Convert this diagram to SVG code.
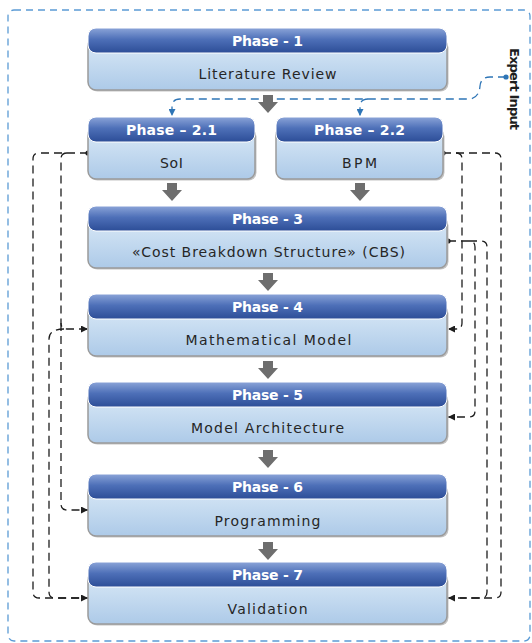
<svg xmlns="http://www.w3.org/2000/svg" width="532" height="643" viewBox="0 0 532 643">
  <style>
    .hdr { fill: url(#hdrGrad); stroke: #ffffff; stroke-width: 1; }
    .body { fill: url(#bodyGrad); stroke: #9a9a9a; stroke-width: 1.5; }
    .shadow { fill: #c4c4c4; }
    .htxt { font-family: "DejaVu Sans", "Liberation Sans", sans-serif; font-weight: bold; font-size: 14px; fill: #ffffff; text-anchor: middle; }
    .btxt { font-family: "DejaVu Sans", "Liberation Sans", sans-serif; font-size: 14px; fill: #262626; text-anchor: middle; }
    .side { font-family: "DejaVu Sans", "Liberation Sans", sans-serif; font-weight: bold; font-size: 13px; fill: #1e1e1e; text-anchor: middle; }
    .flow { fill: #6e6e6e; }
    .fb { fill: none; stroke: #1e1e1e; stroke-width: 1.3; stroke-dasharray: 8 5; }
    .fb-end { marker-end: url(#arrowBlack); }
    .ex { fill: none; stroke: #2e75b6; stroke-width: 1.3; stroke-dasharray: 8 5; marker-end: url(#arrowBlue); }
    .frame { fill: none; stroke: #5b9bd5; stroke-width: 1.3; stroke-dasharray: 7 5; }
  </style>
  <defs>
    <linearGradient id="hdrGrad" x1="0" y1="0" x2="0" y2="1">
      <stop offset="0" stop-color="#8ba4d8"/>
      <stop offset="0.45" stop-color="#4e70b8"/>
      <stop offset="1" stop-color="#2c4d97"/>
    </linearGradient>
    <linearGradient id="bodyGrad" x1="0" y1="0" x2="0" y2="1">
      <stop offset="0" stop-color="#dbeaf7"/>
      <stop offset="1" stop-color="#adcae8"/>
    </linearGradient>
    <marker id="arrowBlack" viewBox="0 0 10 10" refX="10" refY="5" markerWidth="9" markerHeight="7" markerUnits="userSpaceOnUse" orient="auto">
      <path d="M0,0 L10,5 L0,10 z" fill="#1e1e1e"/>
    </marker>
    <marker id="arrowBlue" viewBox="0 0 10 10" refX="10" refY="5" markerWidth="8" markerHeight="7" markerUnits="userSpaceOnUse" orient="auto">
      <path d="M0,0 L10,5 L0,10 z" fill="#2e75b6"/>
    </marker>
    <path id="blockArrow" d="M-5,0 H5 V7 H10 L0,18 L-10,7 H-5 Z"/>
  </defs>

  <!-- outer dashed frame -->
  <rect class="frame" x="8" y="10" width="522" height="631" rx="6"/>

  <!-- expert input label -->
  <text class="side" transform="translate(510,89) rotate(90)" textLength="82" lengthAdjust="spacing">Expert Input</text>

  <!-- connectors -->
  <g id="connectors">
    <!-- expert input feed -->
    <path class="ex" d="M506,77 H490 Q481,77 480,86 Q479,99 468,99 H180 Q172,99 172,107 V116"/>
    <path class="ex" d="M368,99 Q360,99 360,107 V116"/>
    <circle cx="506" cy="77" r="2.6" fill="#2e75b6"/>

    <!-- solid flow arrows between phases -->
    <use href="#blockArrow" class="flow" x="268" y="95"/>
    <use href="#blockArrow" class="flow" x="172" y="183"/>
    <use href="#blockArrow" class="flow" x="360" y="183"/>
    <use href="#blockArrow" class="flow" x="268" y="273"/>
    <use href="#blockArrow" class="flow" x="268" y="361"/>
    <use href="#blockArrow" class="flow" x="268" y="450"/>
    <use href="#blockArrow" class="flow" x="268" y="542"/>

    <!-- left feedback lines from SoI -->
    <path class="fb fb-end" d="M88,153 H39 Q33,153 33,159 V592 Q33,598 39,598 H88"/>
    <path class="fb fb-end" d="M67,153 Q61,153 61,159 V323 Q61,329 67,329 H88"/>
    <path class="fb fb-end" d="M61,323 V504 Q61,510 67,510 H88"/>
    <path class="fb" d="M64,329 Q49,329 49,339 V592 Q49,598 55,598 H80"/>
    <circle cx="88" cy="153" r="2.6" fill="#1e1e1e"/>

    <!-- right feedback lines from BPM -->
    <path class="fb fb-end" d="M443,153 H456 Q462,153 462,159 V323 Q462,329 456,329 H448"/>
    <path class="fb fb-end" d="M456,153 H495 Q501,153 501,159 V592 Q501,598 495,598 H448"/>
    <circle cx="443" cy="153" r="2.6" fill="#1e1e1e"/>

    <!-- right feedback lines from CBS -->
    <path class="fb fb-end" d="M448,241 H469 Q475,241 475,247 V411 Q475,417 469,417 H448"/>
    <path class="fb" d="M469,241 H481 Q487,241 487,247 V592 Q487,598 481,598 H460"/>
    <circle cx="448" cy="241" r="2.6" fill="#1e1e1e"/>
  </g>

  <!-- phase nodes -->
  <g id="phase1">
    <rect class="shadow" x="89.5" y="39.5" width="359" height="52" rx="8"/>
    <rect class="body" x="88" y="38" width="359" height="52" rx="8"/>
    <rect class="hdr" x="88" y="28" width="359" height="25" rx="8"/>
    <text class="htxt" x="267.5" y="46" textLength="71" lengthAdjust="spacing">Phase - 1</text>
    <text class="btxt" x="267.5" y="79" textLength="138" lengthAdjust="spacing">Literature Review</text>
  </g>

  <g id="phase2-1">
    <rect class="shadow" x="89.5" y="128.5" width="167" height="52" rx="8"/>
    <rect class="body" x="88" y="127" width="167" height="52" rx="8"/>
    <rect class="hdr" x="88" y="117" width="167" height="25" rx="8"/>
    <text class="htxt" x="171.5" y="135" textLength="91" lengthAdjust="spacing">Phase – 2.1</text>
    <text class="btxt" x="171.5" y="168" textLength="23" lengthAdjust="spacing">SoI</text>
  </g>

  <g id="phase2-2">
    <rect class="shadow" x="277.5" y="128.5" width="167" height="52" rx="8"/>
    <rect class="body" x="276" y="127" width="167" height="52" rx="8"/>
    <rect class="hdr" x="276" y="117" width="167" height="25" rx="8"/>
    <text class="htxt" x="359.5" y="135" textLength="91" lengthAdjust="spacing">Phase – 2.2</text>
    <text class="btxt" x="359.5" y="168" textLength="35" lengthAdjust="spacing">BPM</text>
  </g>

  <g id="phase3">
    <rect class="shadow" x="89.5" y="217.5" width="359" height="52" rx="8"/>
    <rect class="body" x="88" y="216" width="359" height="52" rx="8"/>
    <rect class="hdr" x="88" y="206" width="359" height="25" rx="8"/>
    <text class="htxt" x="267.5" y="224" textLength="71" lengthAdjust="spacing">Phase - 3</text>
    <text class="btxt" x="268.5" y="257" textLength="273" lengthAdjust="spacing">«Cost Breakdown Structure» (CBS)</text>
  </g>

  <g id="phase4">
    <rect class="shadow" x="89.5" y="305.5" width="359" height="52" rx="8"/>
    <rect class="body" x="88" y="304" width="359" height="52" rx="8"/>
    <rect class="hdr" x="88" y="294" width="359" height="25" rx="8"/>
    <text class="htxt" x="267.5" y="312" textLength="71" lengthAdjust="spacing">Phase - 4</text>
    <text class="btxt" x="268.5" y="345" textLength="166" lengthAdjust="spacing">Mathematical Model</text>
  </g>

  <g id="phase5">
    <rect class="shadow" x="89.5" y="393.5" width="359" height="51" rx="8"/>
    <rect class="body" x="88" y="392" width="359" height="51" rx="8"/>
    <rect class="hdr" x="88" y="382" width="359" height="25" rx="8"/>
    <text class="htxt" x="267.5" y="400" textLength="71" lengthAdjust="spacing">Phase - 5</text>
    <text class="btxt" x="267.5" y="433" textLength="153" lengthAdjust="spacing">Model Architecture</text>
  </g>

  <g id="phase6">
    <rect class="shadow" x="89.5" y="485.5" width="359" height="52" rx="8"/>
    <rect class="body" x="88" y="484" width="359" height="52" rx="8"/>
    <rect class="hdr" x="88" y="474" width="359" height="25" rx="8"/>
    <text class="htxt" x="267.5" y="492" textLength="71" lengthAdjust="spacing">Phase - 6</text>
    <text class="btxt" x="267.5" y="526" textLength="106" lengthAdjust="spacing">Programming</text>
  </g>

  <g id="phase7">
    <rect class="shadow" x="89.5" y="573.5" width="359" height="52" rx="8"/>
    <rect class="body" x="88" y="572" width="359" height="52" rx="8"/>
    <rect class="hdr" x="88" y="562" width="359" height="25" rx="8"/>
    <text class="htxt" x="267.5" y="580" textLength="71" lengthAdjust="spacing">Phase - 7</text>
    <text class="btxt" x="267.5" y="614" textLength="80" lengthAdjust="spacing">Validation</text>
  </g>
</svg>
